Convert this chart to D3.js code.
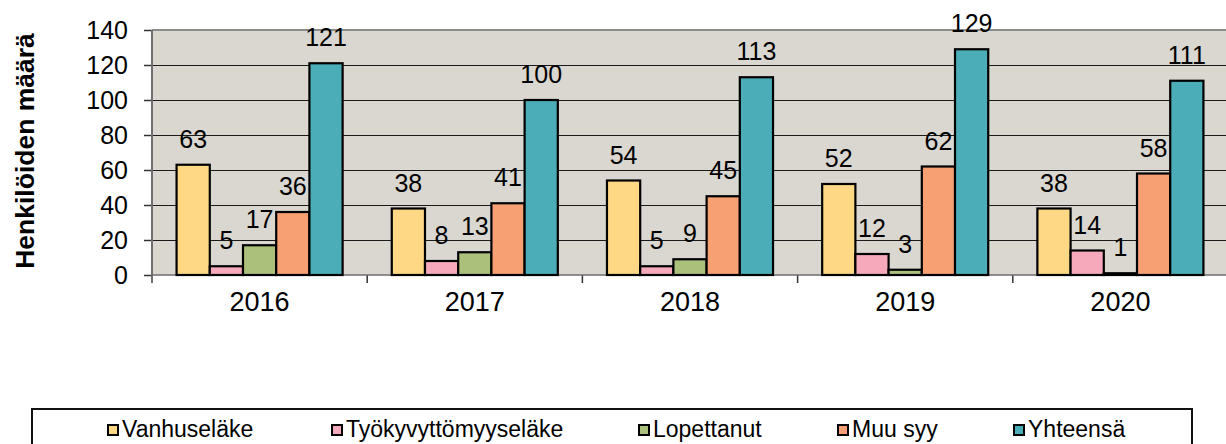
<!DOCTYPE html>
<html>
<head>
<meta charset="utf-8">
<script src="https://cdn.jsdelivr.net/npm/d3@7"></script>
<style>
  html, body { margin: 0; padding: 0; background: #fff; }
  svg { display: block; font-family: "Liberation Sans", Arial, sans-serif; }
</style>
</head>
<body>
<svg id="chart"></svg>
<script>
const WIDTH = 1226
const HEIGHT = 444
const PLOT = { left: 152, right: 1228, top: 30, bottom: 275 }

const years = ['2016', '2017', '2018', '2019', '2020']
const series = ['Vanhuseläke', 'Työkyvyttömyyseläke', 'Lopettanut', 'Muu syy', 'Yhteensä']
const colors = ['#FFD886', '#F5A9BA', '#ABC07A', '#F6A074', '#4BADB7']
const vanhuselake = [63, 38, 54, 52, 38]
const tyokyvyttomyys = [5, 8, 5, 12, 14]
const lopettanut = [17, 13, 9, 3, 1]
const muuSyy = [36, 41, 45, 62, 58]
const yhteensa = [121, 100, 113, 129, 111]
const yTicks = [0, 20, 40, 60, 80, 100, 120, 140]

const values = [vanhuselake, tyokyvyttomyys, lopettanut, muuSyy, yhteensa]
const data = years.map((year, i) => ({
  year,
  bars: series.map((s, j) => ({ key: s, color: colors[j], value: values[j][i] }))
}))

const svg = d3.select('#chart')
  .attr('width', WIDTH)
  .attr('height', HEIGHT)

const x0 = d3.scaleBand()
  .domain(years)
  .range([PLOT.left, PLOT.right])

const x1 = d3.scaleBand()
  .domain(series)
  .range([0, x0.bandwidth()])
  .paddingOuter(0.74)

const y = d3.scaleLinear()
  .domain([0, 140])
  .range([PLOT.bottom, PLOT.top])

// plot background
svg.append('rect')
  .attr('x', PLOT.left)
  .attr('y', PLOT.top)
  .attr('width', PLOT.right - PLOT.left)
  .attr('height', PLOT.bottom - PLOT.top)
  .attr('fill', '#D9D7D0')

// grid lines
svg.append('g')
  .attr('class', 'grid')
  .selectAll('line')
  .data(yTicks.slice(1, -1))
  .enter()
  .append('line')
  .attr('x1', PLOT.left)
  .attr('x2', PLOT.right)
  .attr('y1', d => y(d) + 0.5)
  .attr('y2', d => y(d) + 0.5)
  .attr('stroke', '#1a1a1a')
  .attr('stroke-width', 1)

// top border
svg.append('line')
  .attr('x1', PLOT.left)
  .attr('x2', PLOT.right)
  .attr('y1', PLOT.top)
  .attr('y2', PLOT.top)
  .attr('stroke', '#8c8c8c')
  .attr('stroke-width', 2)

// y axis
const yAxis = svg.append('g')
  .attr('transform', `translate(${PLOT.left}, 0)`)
  .call(d3.axisLeft(y).tickValues(yTicks).tickSize(8).tickPadding(16))
yAxis.select('.domain').remove()
yAxis.selectAll('.tick line').attr('stroke', '#333').attr('stroke-width', 1.5)
yAxis.selectAll('.tick text')
  .attr('fill', '#000')
  .style('font-size', '25px')
  .style('font-family', '"Liberation Sans", Arial, sans-serif')

svg.append('line')
  .attr('x1', PLOT.left)
  .attr('x2', PLOT.left)
  .attr('y1', PLOT.top)
  .attr('y2', PLOT.bottom + 8)
  .attr('stroke', '#6e6e6e')
  .attr('stroke-width', 2)

// x axis
const xAxis = svg.append('g')
  .attr('transform', `translate(0, ${PLOT.bottom})`)
  .call(d3.axisBottom(x0).tickSize(0).tickPadding(17))
xAxis.select('.domain').remove()
xAxis.selectAll('.tick text')
  .attr('fill', '#000')
  .style('font-size', '27px')
  .style('font-family', '"Liberation Sans", Arial, sans-serif')

svg.append('g')
  .selectAll('line')
  .data(years)
  .enter()
  .append('line')
  .attr('x1', d => x0(d) + x0.bandwidth())
  .attr('x2', d => x0(d) + x0.bandwidth())
  .attr('y1', PLOT.bottom)
  .attr('y2', PLOT.bottom + 8)
  .attr('stroke', '#333')
  .attr('stroke-width', 1.5)

svg.append('line')
  .attr('x1', PLOT.left)
  .attr('x2', PLOT.right)
  .attr('y1', PLOT.bottom)
  .attr('y2', PLOT.bottom)
  .attr('stroke', '#6e6e6e')
  .attr('stroke-width', 1.5)

// bars
const groups = svg.append('g')
  .selectAll('g')
  .data(data)
  .enter()
  .append('g')
  .attr('transform', d => `translate(${x0(d.year)}, 0)`)

groups.selectAll('rect')
  .data(d => d.bars)
  .enter()
  .append('rect')
  .attr('x', d => x1(d.key))
  .attr('y', d => y(d.value))
  .attr('width', x1.bandwidth())
  .attr('height', d => y(0) - y(d.value))
  .attr('fill', d => d.color)
  .attr('stroke', '#000')
  .attr('stroke-width', 2.2)

groups.selectAll('text')
  .data(d => d.bars)
  .enter()
  .append('text')
  .attr('x', d => x1(d.key) + x1.bandwidth() / 2)
  .attr('y', d => y(d.value) - 17)
  .attr('text-anchor', 'middle')
  .style('font-size', '25px')
  .attr('fill', '#000')
  .text(d => d.value)

// y title
svg.append('text')
  .attr('transform', 'translate(34, 151) rotate(-90)')
  .attr('text-anchor', 'middle')
  .style('font-size', '26.5px')
  .style('font-weight', 'bold')
  .attr('fill', '#000')
  .text('Henkilöiden määrä')

// legend
const legendX = [107, 331, 638, 837, 1013]
svg.append('rect')
  .attr('x', 32)
  .attr('y', 409)
  .attr('width', 1160)
  .attr('height', 60)
  .attr('fill', '#fff')
  .attr('stroke', '#111')
  .attr('stroke-width', 2)

const legend = svg.append('g')
  .selectAll('g')
  .data(series)
  .enter()
  .append('g')
  .attr('transform', (d, i) => `translate(${legendX[i]}, 424)`)

legend.append('rect')
  .attr('x', 1)
  .attr('y', 1)
  .attr('width', 10)
  .attr('height', 10)
  .attr('fill', (d, i) => colors[i])
  .attr('stroke', '#000')
  .attr('stroke-width', 2)

legend.append('text')
  .attr('x', 15)
  .attr('y', 13)
  .style('font-size', '23px')
  .attr('fill', '#000')
  .text(d => d)
</script>
</body>
</html>
